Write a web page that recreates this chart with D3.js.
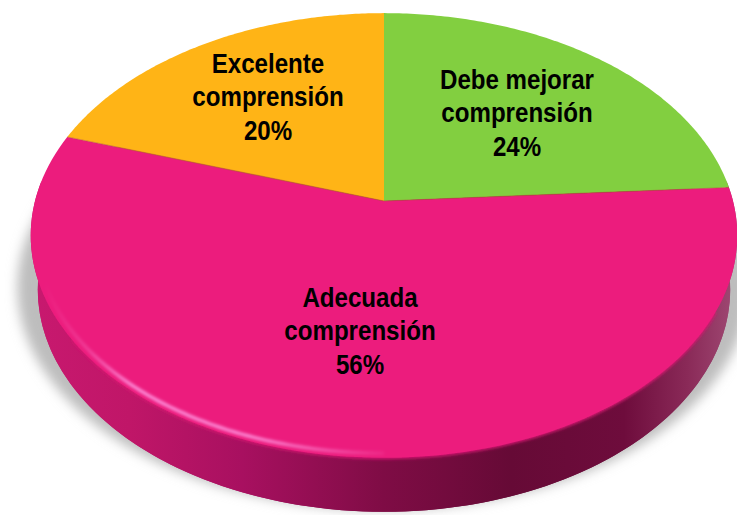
<!DOCTYPE html>
<html>
<head>
<meta charset="utf-8">
<script src="https://cdn.jsdelivr.net/npm/d3@7"></script>
<style>
html,body{margin:0;padding:0;background:#fff;}
svg{display:block;}
text{font-family:"Liberation Sans",Arial,sans-serif;font-weight:700;fill:#000;}
</style>
</head>
<body>
<svg id="chart" width="737" height="515"></svg>
<script>
// Reading comprehension levels, clockwise from twelve o'clock
const categories = ["Debe mejorar comprensión", "Adecuada comprensión", "Excelente comprensión"];
const labelLines = [["Debe mejorar", "comprensión"], ["Adecuada", "comprensión"], ["Excelente", "comprensión"]];
const percentages = [24, 56, 20];
const sliceColors = ["#82cf3f", "#ec1b7d", "#ffb414"];

// Screen position of the centre of each label block
const labelCentres = [[517, 112], [360, 330], [268, 96]];

const width = 737, height = 515;
const svg = d3.select("#chart");
const defs = svg.append("defs");

// Perspective tilt of the disc: the far edge is foreshortened
const apex = { x: 384, y: 201 }, rx = 349, ry = 217, tilt = 0.155;
const depth = 54, bottomShrink = 0.98;

const project = (angle, r = 1) => {
  const u = Math.sin(angle) * r, v = Math.cos(angle) * r, w = 1 + tilt * v;
  return [apex.x + rx * u / w, apex.y - ry * v / w];
};
const projectBottom = (angle, shrink = bottomShrink) => {
  const [x, y] = project(angle);
  return [apex.x + (x - apex.x) * shrink, y + depth];
};

const pie = d3.pie().sort(null).value(d => d);
const slices = pie(percentages);
const line = d3.line();

const arcAngles = (a0, a1) => d3.range(0, 121).map(i => a0 + (a1 - a0) * i / 120);
const fullCircle = arcAngles(0, 2 * Math.PI);

const blur = (id, sd) => defs.append("filter")
  .attr("id", id).attr("x", "-20%").attr("y", "-20%").attr("width", "140%").attr("height", "140%")
  .append("feGaussianBlur").attr("stdDeviation", sd);
blur("soft-shadow", 6);
blur("soft-edge", 1.6);
blur("soft-rim", 0.6);
blur("soft-wall-top", 1.4);

// Wall shading runs from bright magenta on the left to deep wine on the right
const wallGrad = defs.append("linearGradient").attr("id", "wall")
  .attr("gradientUnits", "userSpaceOnUse")
  .attr("x1", 30).attr("x2", 737).attr("y1", 0).attr("y2", 0);
[[0, "#c8196f"], [0.14, "#c01668"], [0.3, "#a81060"], [0.5, "#7f0c45"], [0.68, "#660a36"],
 [0.84, "#6e0c3c"], [0.93, "#8a2a58"], [1, "#a04a74"]]
  .forEach(([o, c]) => wallGrad.append("stop").attr("offset", o).attr("stop-color", c));

const bevelGrad = defs.append("linearGradient").attr("id", "bevel-light")
  .attr("gradientUnits", "userSpaceOnUse")
  .attr("x1", 45).attr("x2", 400).attr("y1", 0).attr("y2", 0);
[[0, 0], [0.12, 0.25], [0.25, 0.85], [0.6, 0.8], [1, 0]]
  .forEach(([o, a]) => bevelGrad.append("stop").attr("offset", o)
    .attr("stop-color", "#ff9ce6").attr("stop-opacity", a));

// Drop shadow on the ground
svg.append("path")
  .attr("d", line(fullCircle.map(a => projectBottom(a, 1.035)).map(([x, y]) => [x - 1, y - 2])) + "Z")
  .attr("fill", "#bdbdbd")
  .attr("filter", "url(#soft-shadow)");

// Side wall of the disc
svg.append("path")
  .attr("d", line(fullCircle.map(a => projectBottom(a))) + "Z")
  .attr("fill", "url(#wall)");
const lowerHalf = arcAngles(Math.PI * 0.47, Math.PI * 1.53);
svg.append("path")
  .attr("d", line(lowerHalf.map(a => project(a)).concat(lowerHalf.slice().reverse().map(a => projectBottom(a)))) + "Z")
  .attr("fill", "url(#wall)");

// Soft shaded transition where the wall meets the top face, front edge only
svg.append("path")
  .attr("d", line(arcAngles(Math.PI * 0.66, Math.PI * 1.3).map(a => project(a, 0.998))))
  .attr("fill", "none").attr("stroke", "#d2156f").attr("stroke-width", 4)
  .attr("stroke-linecap", "round")
  .attr("filter", "url(#soft-wall-top)");

// Top face slices
const sliceGroup = svg.append("g");
sliceGroup.selectAll("path").data(slices).join("path")
  .attr("d", d => line([project(0, 0)].concat(arcAngles(d.startAngle, d.endAngle).map(a => project(a)))) + "Z")
  .attr("fill", (d, i) => sliceColors[i])
  .attr("filter", "url(#soft-rim)");

// Thin darker seams between the slices
sliceGroup.selectAll("line").data(slices).join("line")
  .attr("x1", project(0, 0)[0]).attr("y1", project(0, 0)[1])
  .attr("x2", d => project(d.startAngle)[0]).attr("y2", d => project(d.startAngle)[1])
  .attr("stroke", "#b8503c")
  .attr("stroke-opacity", (d, i) => i === 0 ? 0 : 0.55)
  .attr("stroke-width", 1.2);

// Light catching the bevel along the front-left rim
const bevel = arcAngles(Math.PI * 1.0, Math.PI * 1.42);
svg.append("path")
  .attr("d", line(bevel.map(a => project(a, 0.985))))
  .attr("fill", "none").attr("stroke", "url(#bevel-light)").attr("stroke-width", 3.5)
  .attr("filter", "url(#soft-edge)");

// Labels: name lines followed by the percentage, narrowed horizontally
const lineHeight = 33.5;
const labels = svg.append("g").attr("font-size", 27).attr("text-anchor", "middle");
slices.forEach((d, i) => {
  const rows = labelLines[i].concat(percentages[i] + "%");
  const [cx, cy] = labelCentres[i];
  rows.forEach((row, j) => {
    labels.append("text")
      .attr("transform", `translate(${cx},${cy + (j - 1) * lineHeight + 10}) scale(0.893,1)`)
      .text(row);
  });
});
</script>
</body>
</html>
